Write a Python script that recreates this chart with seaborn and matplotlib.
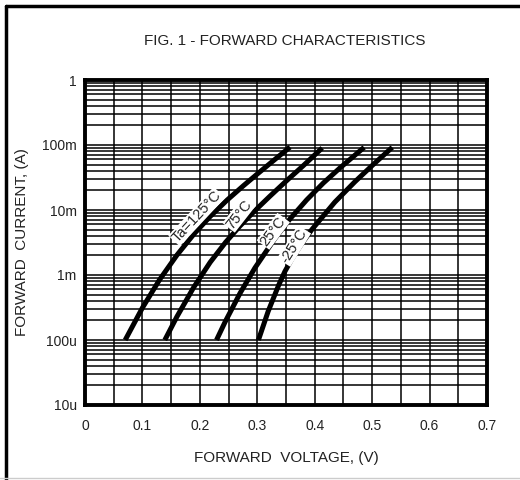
import numpy as np
import pandas as pd
import matplotlib
matplotlib.use("Agg")
import matplotlib.pyplot as plt
import matplotlib.ticker as mticker
from matplotlib.lines import Line2D
import seaborn as sns

# curves (forward voltage V, forward current A)
v_125 = [0.070, 0.100, 0.130, 0.160, 0.190, 0.218, 0.247, 0.276, 0.300, 0.330, 0.357]
i_125 = [1e-4, 3.13e-4, 8.5e-4, 2.02e-3, 4.3e-3, 7.96e-3, 1.41e-2, 2.37e-2, 3.58e-2, 5.93e-2, 9.3e-2]

v_75 = [0.139, 0.160, 0.189, 0.218, 0.245, 0.270, 0.296, 0.322, 0.350, 0.380, 0.413]
i_75 = [1e-4, 2.28e-4, 6.4e-4, 1.57e-3, 3.2e-3, 5.7e-3, 9.8e-3, 1.63e-2, 2.77e-2, 4.8e-2, 9.0e-2]

v_25 = [0.229, 0.244, 0.270, 0.296, 0.331, 0.357, 0.386, 0.415, 0.444, 0.486]
i_25 = [1e-4, 1.9e-4, 5.25e-4, 1.29e-3, 3.67e-3, 7.3e-3, 1.43e-2, 2.6e-2, 4.44e-2, 9.2e-2]

v_m25 = [0.302, 0.319, 0.337, 0.348, 0.360, 0.377, 0.395, 0.435, 0.470, 0.500, 0.535]
i_m25 = [1e-4, 2.77e-4, 6.9e-4, 1.13e-3, 1.75e-3, 3.0e-3, 5.0e-3, 1.32e-2, 2.72e-2, 4.83e-2, 9.2e-2]

curve_names = ["125", "75", "25", "-25"]
curve_labels = ["Ta=125°C", "75°C", "25°C", "-25°C"]
label_v = [0.1945, 0.2685, 0.328, 0.364]
label_i = [7.9e-3, 8.6e-3, 4.7e-3, 2.8e-3]
label_rot = [47, 52, 53, 58]

x_ticks = [0, 0.1, 0.2, 0.3, 0.4, 0.5, 0.6, 0.7]
y_ticks = [1e-5, 1e-4, 1e-3, 1e-2, 1e-1, 1]
y_ticklabels = ["10u", "100u", "1m", "10m", "100m", "1"]

df = pd.concat([
    pd.DataFrame({"V": v, "I": i, "T": name})
    for v, i, name in zip([v_125, v_75, v_25, v_m25],
                          [i_125, i_75, i_25, i_m25], curve_names)
])

sns.set_style("white")
plt.rcParams["font.family"] = ["Liberation Sans", "DejaVu Sans"]
txt = "#222222"

fig = plt.figure(figsize=(5.2, 4.8), dpi=100)
ax = fig.add_axes([85 / 520, 1 - 405 / 480, 402 / 520, 325 / 480])

sns.lineplot(data=df, x="V", y="I", units="T", estimator=None, sort=False,
             color="black", linewidth=3.6, solid_capstyle="butt",
             solid_joinstyle="round", ax=ax, zorder=3)

ax.set_yscale("log")
ax.set_xlim(0, 0.7)
ax.set_ylim(1e-5, 1)
ax.set_xticks(x_ticks)
ax.set_xticklabels([f"{t:g}" for t in x_ticks])
ax.set_yticks(y_ticks)
ax.set_yticklabels(y_ticklabels)
ax.xaxis.set_minor_locator(mticker.MultipleLocator(0.05))
ax.yaxis.set_minor_locator(mticker.LogLocator(base=10, subs=np.arange(2, 10)))
ax.yaxis.set_minor_formatter(mticker.NullFormatter())
ax.grid(True, which="both", color="black", linewidth=1.1)
ax.set_axisbelow(True)
ax.tick_params(which="both", length=0, labelsize=10, colors=txt)
ax.tick_params(axis="x", pad=10)
ax.tick_params(axis="y", pad=6)
for s in ax.spines.values():
    s.set_linewidth(2.8)
    s.set_color("black")

for lab, v, i, r in zip(curve_labels, label_v, label_i, label_rot):
    ax.text(v, i, lab, rotation=r, ha="center", va="center", fontsize=10.5,
            color=txt, rotation_mode="anchor", zorder=4,
            bbox=dict(facecolor="white", edgecolor="none", pad=0.6))

ax.set_xlabel("FORWARD  VOLTAGE, (V)", fontsize=11, color=txt, labelpad=13)
ax.set_ylabel("FORWARD  CURRENT, (A)", fontsize=11, color=txt, labelpad=9)
fig.text(285 / 520, 1 - 41 / 480, "FIG. 1 - FORWARD CHARACTERISTICS",
         ha="center", va="center", fontsize=11, color=txt)

# outer frame of the figure
fig.add_artist(Line2D([6 / 520, 6 / 520], [0, 1 - 6 / 480], color="black", linewidth=2.5))
fig.add_artist(Line2D([6 / 520, 1], [1 - 6 / 480, 1 - 6 / 480], color="black", linewidth=2.5))
fig.add_artist(Line2D([0, 1], [2 / 480, 2 / 480], color="#cccccc", linewidth=1))

fig.savefig("out.png", dpi=100)
